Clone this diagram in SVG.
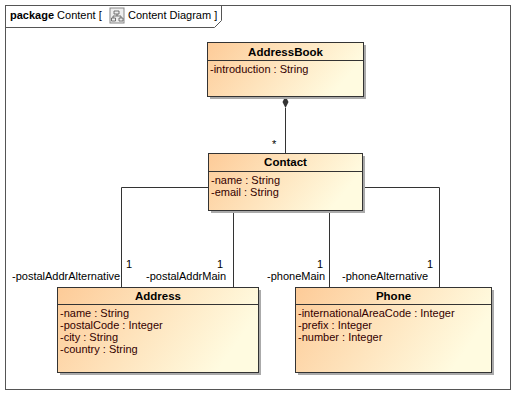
<svg xmlns="http://www.w3.org/2000/svg" width="526" height="404" viewBox="0 0 526 404">
<style>
text{font-family:"Liberation Sans",Arial,sans-serif;font-size:11px;fill:#000}
.t{font-weight:bold;font-size:11.5px;text-anchor:middle}
.box{fill:url(#g);stroke:#333;stroke-width:1}
.sh{fill:#aaa}
.ln{stroke:#333;fill:none;stroke-width:1}
.a{fill:#300}
</style>
<defs>
<linearGradient id="g" x1="0" y1="0" x2="1" y2="0.3">
<stop offset="0" stop-color="#FDCB98"/>
<stop offset="1" stop-color="#FFFBE0"/>
</linearGradient>
</defs>
<rect width="526" height="404" fill="#fff"/>
<g id="frame">
<rect x="5.5" y="5.5" width="505" height="384" fill="none" stroke="#555"/>
<path d="M5.5 27.5H214.5L221.5 20.5V5.5" fill="none" stroke="#555"/>
<text x="10" y="19"><tspan font-weight="bold">package</tspan> Content [</text>
<rect x="110" y="8" width="14" height="15" fill="#eee" stroke="#888"/>
<path d="M114 11h5v3h-5zM117 14v2M113 16h8M113 16v2M121 16v2M111.5 18h4v3h-4zM119 18h4v3h-4z" fill="none" stroke="#555" stroke-width="0.8"/>
<text x="128" y="19">Content Diagram ]</text>
</g>
<g id="connectors">
<path class="ln" d="M285.5 108V153"/>
<path d="M285.5 96L288.5 102L285.5 108L282.5 102Z" fill="#333"/>
<text x="272" y="148">*</text>
<path class="ln" d="M208 187.5H121.5V287"/>
<path class="ln" d="M233.5 210V287"/>
<path class="ln" d="M329.5 210V287"/>
<path class="ln" d="M362 187.5H439.5V287"/>
<text x="126" y="268">1</text>
<text x="12" y="280">-postalAddrAlternative</text>
<text x="217" y="268">1</text>
<text x="146" y="280">-postalAddrMain</text>
<text x="317" y="268">1</text>
<text x="267" y="280">-phoneMain</text>
<text x="427" y="268">1</text>
<text x="342" y="280">-phoneAlternative</text>
</g>
<g id="AddressBook">
<rect class="sh" x="210" y="45" width="156" height="54"/>
<rect class="box" x="207.5" y="42.5" width="156" height="54"/>
<path class="ln" d="M207.5 60.5H363.5"/>
<text class="t" x="285.5" y="56">AddressBook</text>
<text class="a" x="210" y="73">-introduction : String</text>
</g>
<g id="Contact">
<rect class="sh" x="211" y="156" width="154" height="57"/>
<rect class="box" x="208.5" y="153.5" width="154" height="57"/>
<path class="ln" d="M208.5 171.5H362.5"/>
<text class="t" x="285.5" y="166">Contact</text>
<text class="a" x="211" y="184">-name : String</text>
<text class="a" x="211" y="196">-email : String</text>
</g>
<g id="Address">
<rect class="sh" x="60" y="290" width="201" height="85"/>
<rect class="box" x="57.5" y="287.5" width="201" height="85"/>
<path class="ln" d="M57.5 304.5H258.5"/>
<text class="t" x="158" y="300">Address</text>
<text class="a" x="60" y="317">-name : String</text>
<text class="a" x="60" y="329">-postalCode : Integer</text>
<text class="a" x="60" y="341">-city : String</text>
<text class="a" x="60" y="353">-country : String</text>
</g>
<g id="Phone">
<rect class="sh" x="298" y="290" width="196" height="85"/>
<rect class="box" x="295.5" y="287.5" width="196" height="85"/>
<path class="ln" d="M295.5 304.5H491.5"/>
<text class="t" x="393.5" y="300">Phone</text>
<text class="a" x="298" y="317">-internationalAreaCode : Integer</text>
<text class="a" x="298" y="329">-prefix : Integer</text>
<text class="a" x="298" y="341">-number : Integer</text>
</g>
</svg>
